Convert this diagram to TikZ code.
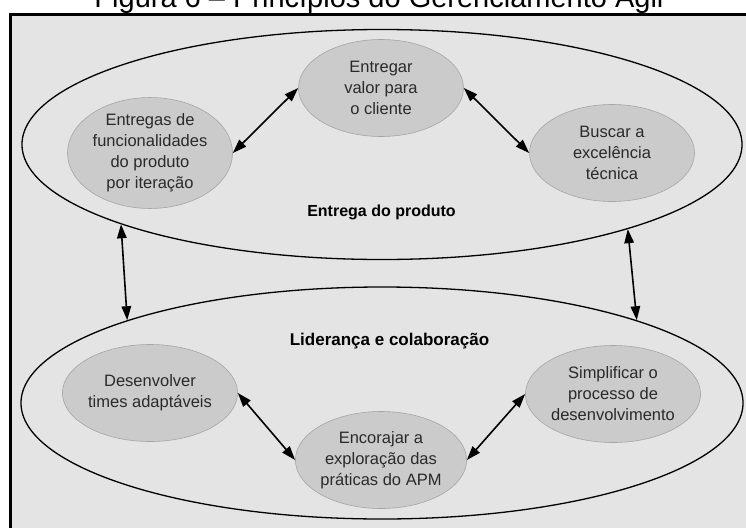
\documentclass[tikz,border=0pt]{standalone}
\usepackage{fontspec}
\setmainfont{Liberation Sans}
\usetikzlibrary{shapes.geometric,arrows.meta}
\definecolor{paper}{HTML}{E4E4E4}
\definecolor{bubble}{HTML}{CBCBCB}
\definecolor{bubbleedge}{HTML}{A5A5A5}
\definecolor{ink}{HTML}{2A2A2A}
\begin{document}
\begin{tikzpicture}[x=1pt,y=-1pt,
  region/.style={ellipse, draw=black, line width=1.3pt, inner sep=0pt},
  principle/.style={ellipse, fill=bubble, draw=bubbleedge, line width=0.6pt,
    inner sep=0pt, minimum width=165pt, minimum height=97pt, align=center,
    text=ink, font=\fontsize{16.5}{21}\selectfont},
  link/.style={{Triangle[length=14pt,width=9.5pt]}-{Triangle[length=14pt,width=9.5pt]},
    line width=1.6pt},
  regionlabel/.style={anchor=base, text=black}]
\useasboundingbox (0,0) rectangle (746,527);
\fill[white] (0,0) rectangle (746,527);

% framed panel (runs off the right and bottom edges)
\fill[paper] (10.5,14.5) rectangle (760,540);
\draw[line width=3pt] (10.5,14.5) rectangle (760,540);

% caption, partly cut by the top edge
\node[anchor=base, font=\fontsize{29}{31}\selectfont] (title) at (379,8)
  {Figura 6 – Princípios do Gerenciamento Ágil};

% the two areas
\node[region, minimum width=720pt, minimum height=230pt] (delivery) at (382,144.5) {};
\node[region, minimum width=722pt, minimum height=232pt] (leadership) at (382,403) {};

\node[regionlabel, font=\bfseries\fontsize{16}{20}\selectfont] (deliverylabel) at (381.5,216)
  {Entrega do produto};
\node[regionlabel, font=\bfseries\fontsize{17}{20}\selectfont] (leadershiplabel) at (389.5,345)
  {Liderança e colaboração};

% principles
\node[principle] (iter)   at (150,153) {Entregas de\\funcionalidades\\do produto\\por iteração};
\node[principle] (value)  at (381,88)  {Entregar\\valor para\\o cliente};
\node[principle] (tech)   at (612,153) {Buscar a\\excelência\\técnica};
\node[principle] (teams)  at (150,393) {Desenvolver\\times adaptáveis};
\node[principle] (apm)    at (381,460) {Encorajar a\\exploração das\\práticas do APM};
\node[principle] (simple) at (613,394) {Simplificar o\\processo de\\desenvolvimento};

% links between principles
\draw[link] (iter.east) -- (value.west);
\draw[link] (value.east) -- (tech.west);
\draw[link] (teams.east) -- (apm.west);
\draw[link] (apm.east) -- (simple.west);

% links between the two areas
\draw[link] (delivery.197.4) -- (leadership.162.55);
\draw[link] (delivery.341.94) -- (leadership.18.12);
\end{tikzpicture}
\end{document}
